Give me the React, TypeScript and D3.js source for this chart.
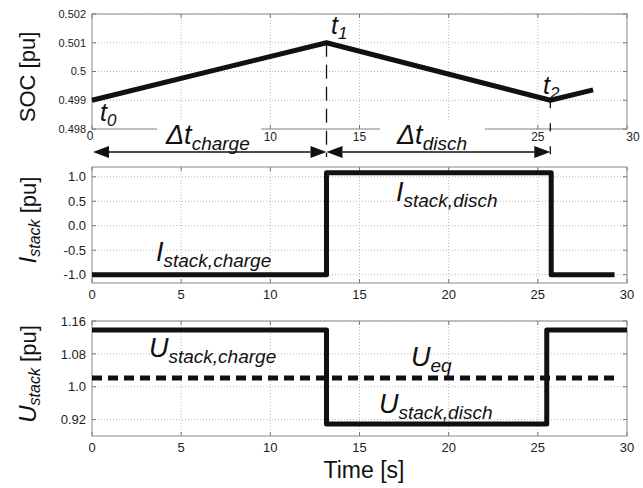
import React from 'react';
import * as d3 from 'd3';

// values
const socTime = [0, 13.15, 25.7, 28.1];
const socValue = [0.499, 0.501, 0.499, 0.49936];
const socTicks = [0.498, 0.499, 0.5, 0.501, 0.502];
const socTickLabels = ['0.498', '0.499', '0.5', '0.501', '0.502'];

const iTime = [0, 13.15, 13.15, 25.75, 25.75, 29.3];
const iValue = [-1.0, -1.0, 1.08, 1.08, -1.0, -1.0];
const iTicks = [-1, -0.5, 0, 0.5, 1];
const iTickLabels = ['-1.0', '-0.5', '0.0', '0.5', '1.0'];

const uTime = [0, 13.15, 13.15, 25.5, 25.5, 30];
const uValue = [1.138, 1.138, 0.909, 0.909, 1.138, 1.138];
const ueqTime = [0, 29.5];
const ueqValue = [1.021, 1.021];
const uTicks = [0.92, 1.0, 1.08, 1.16];
const uTickLabels = ['0.92', '1.0', '1.08', '1.16'];

const timeTicks = [0, 5, 10, 15, 20, 25, 30];
// in the top panel, 5 and 20 sit under the interval labels
const socTimeLabels = [0, 10, 15, 25, 30];

const t1 = 13.15;
const t2 = 25.7;

const width = 643;
const height = 488;
const marginLeft = 92;
const marginRight = 16;
const font = 'Liberation Sans, Arial, Helvetica, sans-serif';
const ink = '#111';

const x = d3.scaleLinear().domain([0, 30]).range([marginLeft, width - marginRight]);
const ySoc = d3.scaleLinear().domain([0.498, 0.502]).range([129, 14]);
const yI = d3.scaleLinear().domain([-1.17, 1.2]).range([283, 167]);
const yU = d3.scaleLinear().domain([0.88, 1.16]).range([436, 321]);

const line = (xs: number[], ys: number[], yScale: d3.ScaleLinear<number, number>) =>
  d3.line<number>()
    .x((_, i) => x(xs[i]))
    .y((d) => yScale(d))(ys) ?? '';

interface PanelProps {
  yScale: d3.ScaleLinear<number, number>;
  ticks: number[];
  labels: string[];
  tickFont: number;
  xLabels: boolean;
}

const Panel: React.FC<PanelProps> = ({ yScale, ticks, labels, tickFont, xLabels }) => {
  const [y0, y1] = yScale.range();
  const left = x(0);
  const right = x(30);
  return (
    <g>
      <rect x={left} y={y1} width={right - left} height={y0 - y1} fill="#fff" />
      {timeTicks.slice(1, -1).map((t) => (
        <line key={'gx' + t} x1={x(t)} x2={x(t)} y1={y0} y2={y1}
          stroke="#bbb" strokeDasharray="1,2" />
      ))}
      {ticks.map((v) => (
        <line key={'gy' + v} x1={left} x2={right} y1={yScale(v)} y2={yScale(v)}
          stroke="#bbb" strokeDasharray="1,2" />
      ))}
      {timeTicks.map((t) => (
        <g key={'tx' + t}>
          <line x1={x(t)} x2={x(t)} y1={y0} y2={y0 - 4} stroke="#777" />
          <line x1={x(t)} x2={x(t)} y1={y1} y2={y1 + 4} stroke="#777" />
        </g>
      ))}
      {ticks.map((v) => (
        <g key={'ty' + v}>
          <line x1={left} x2={left + 4} y1={yScale(v)} y2={yScale(v)} stroke="#777" />
          <line x1={right} x2={right - 4} y1={yScale(v)} y2={yScale(v)} stroke="#777" />
        </g>
      ))}
      <rect x={left} y={y1} width={right - left} height={y0 - y1} fill="none" stroke="#888" />
      {ticks.map((v, i) => (
        <text key={'ly' + v} x={left - 6} y={yScale(v)} dy="0.36em" textAnchor="end"
          fontSize={tickFont} fontFamily={font} fill="#222">{labels[i]}</text>
      ))}
      {xLabels && timeTicks.map((t) => (
        <text key={'lx' + t} x={x(t)} y={y0 + 16} textAnchor="middle"
          fontSize={13} fontFamily={font} fill="#222">{t}</text>
      ))}
    </g>
  );
};

const Sub: React.FC<{ x: number; y: number; main: string; sub: string; size: number; subSize: number }> =
  ({ x: px, y: py, main, sub, size, subSize }) => (
    <text x={px} y={py} fontFamily={font} fill={ink} fontStyle="italic">
      <tspan fontSize={size}>{main}</tspan>
      <tspan fontSize={subSize} dy={subSize * 0.3}>{sub}</tspan>
    </text>
  );

const Arrow: React.FC<{ from: number; to: number; y: number }> = ({ from, to, y }) => {
  const a = 16;
  const h = 6;
  return (
    <g>
      <line x1={from + a} x2={to - a} y1={y} y2={y} stroke={ink} strokeWidth={1.5} />
      <path d={`M${from},${y} L${from + a},${y - h} L${from + a},${y + h} Z`} fill={ink} />
      <path d={`M${to},${y} L${to - a},${y - h} L${to - a},${y + h} Z`} fill={ink} />
    </g>
  );
};

const App: React.FC = () => {
  return (
    <svg width={width} height={height} style={{ position: 'absolute', left: 0, top: 0, background: '#fff' }}>
      {/* SOC panel */}
      <Panel yScale={ySoc} ticks={socTicks} labels={socTickLabels} tickFont={11} xLabels={false} />
      {socTimeLabels.map((t) => (
        <text key={'sx' + t} x={x(t) + (t === 0 ? -2 : t === 30 ? 6 : 0)} y={141 + (t === 0 ? -1 : 0)}
          textAnchor="middle" fontSize={12} fontFamily={font} fill="#222">{t}</text>
      ))}
      <path d={line(socTime, socValue, ySoc)} fill="none" stroke={ink} strokeWidth={5} strokeLinejoin="round" />

      {/* cover boxes for the interval labels */}
      <rect x={157} y={122} width={104} height={12} fill="#fff" />
      <rect x={380} y={122} width={105} height={12} fill="#fff" />

      <line x1={x(t1)} x2={x(t1)} y1={ySoc(0.501)} y2={157} stroke={ink} strokeWidth={1.3} strokeDasharray="14,8" />
      <line x1={x(t2)} x2={x(t2)} y1={ySoc(0.499)} y2={157} stroke={ink} strokeWidth={1.3} strokeDasharray="8,15" />
      <Arrow from={x(0) + 1} to={x(t1)} y={152} />
      <Arrow from={x(t1)} to={x(t2)} y={152} />

      <Sub x={166} y={144} main="Δt" sub="charge" size={27} subSize={19} />
      <Sub x={397} y={144} main="Δt" sub="disch" size={27} subSize={19} />
      <Sub x={100} y={121} main="t" sub="0" size={25} subSize={17} />
      <Sub x={331} y={34} main="t" sub="1" size={25} subSize={17} />
      <Sub x={543} y={94} main="t" sub="2" size={25} subSize={17} />

      {/* I stack panel */}
      <Panel yScale={yI} ticks={iTicks} labels={iTickLabels} tickFont={13} xLabels={true} />
      <path d={line(iTime, iValue, yI)} fill="none" stroke={ink} strokeWidth={5} strokeLinejoin="round" />
      <Sub x={156} y={261} main="I" sub="stack,charge" size={27} subSize={19} />
      <Sub x={396} y={201} main="I" sub="stack,disch" size={27} subSize={19} />

      {/* U stack panel */}
      <Panel yScale={yU} ticks={uTicks} labels={uTickLabels} tickFont={13} xLabels={true} />
      <path d={line(ueqTime, ueqValue, yU)} fill="none" stroke={ink} strokeWidth={5} strokeDasharray="10,6" />
      <path d={line(uTime, uValue, yU)} fill="none" stroke={ink} strokeWidth={5} strokeLinejoin="round" />
      <Sub x={149} y={357} main="U" sub="stack,charge" size={27} subSize={19} />
      <Sub x={411} y={366} main="U" sub="eq" size={27} subSize={19} />
      <Sub x={379} y={413} main="U" sub="stack,disch" size={27} subSize={19} />

      {/* axis titles */}
      <text transform="translate(35,77) rotate(-90)" textAnchor="middle" fontSize={22} fontFamily={font} fill={ink}>SOC [pu]</text>
      <text transform="translate(36,220) rotate(-90)" textAnchor="middle" fontFamily={font} fill={ink}>
        <tspan fontSize={24} fontStyle="italic">I</tspan>
        <tspan fontSize={16} fontStyle="italic" dy={4}>stack</tspan>
        <tspan fontSize={22} dy={-4}> [pu]</tspan>
      </text>
      <text transform="translate(36,374) rotate(-90)" textAnchor="middle" fontFamily={font} fill={ink}>
        <tspan fontSize={24} fontStyle="italic">U</tspan>
        <tspan fontSize={16} fontStyle="italic" dy={4}>stack</tspan>
        <tspan fontSize={22} dy={-4}> [pu]</tspan>
      </text>
      <text x={364} y={478} textAnchor="middle" fontSize={23} fontFamily={font} fill={ink}>Time [s]</text>
    </svg>
  );
};

export default App;
